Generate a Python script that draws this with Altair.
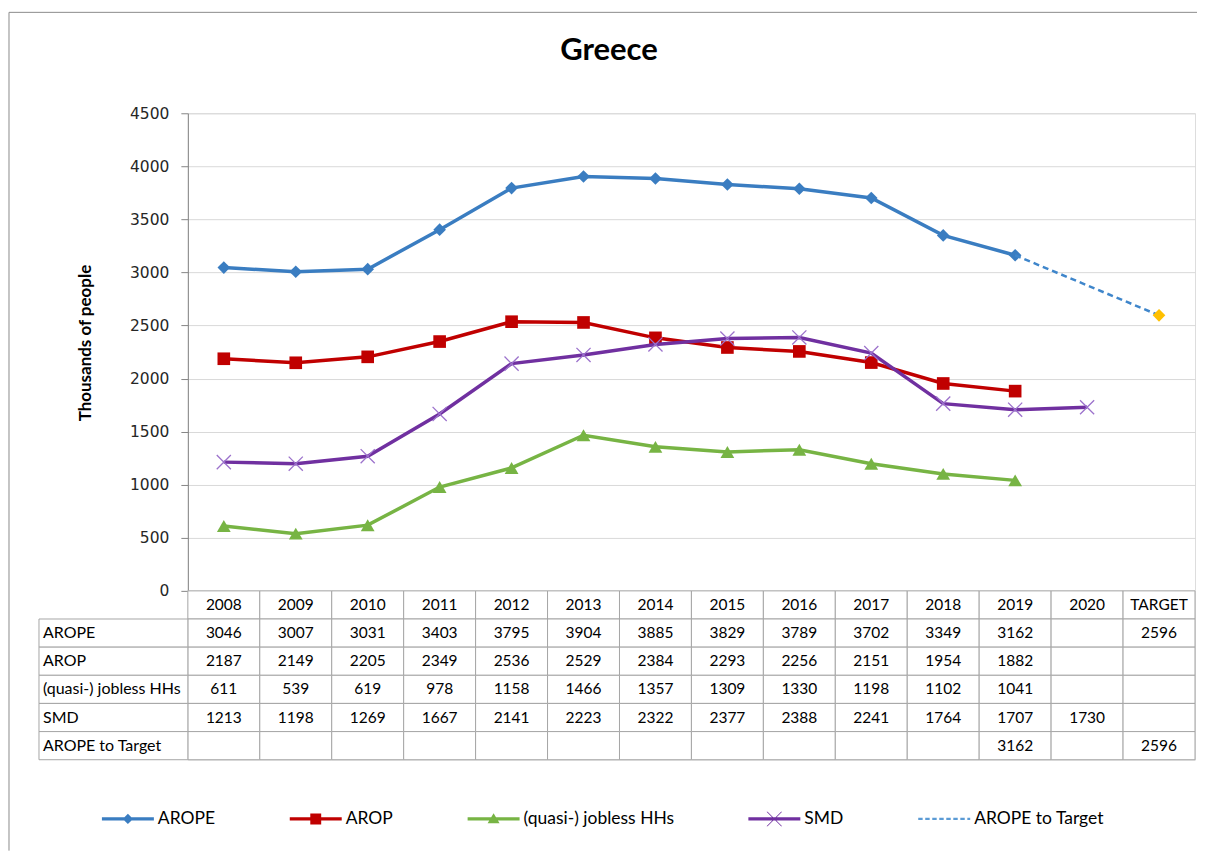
import altair as alt
import pandas as pd

# ---------------- data ----------------
years = ["2008", "2009", "2010", "2011", "2012", "2013", "2014",
         "2015", "2016", "2017", "2018", "2019", "2020", "TARGET"]
arope = [3046, 3007, 3031, 3403, 3795, 3904, 3885, 3829, 3789, 3702, 3349, 3162, None, 2596]
arop = [2187, 2149, 2205, 2349, 2536, 2529, 2384, 2293, 2256, 2151, 1954, 1882, None, None]
jobless = [611, 539, 619, 978, 1158, 1466, 1357, 1309, 1330, 1198, 1102, 1041, None, None]
smd = [1213, 1198, 1269, 1667, 2141, 2223, 2322, 2377, 2388, 2241, 1764, 1707, 1730, None]
arope_to_target = [None, None, None, None, None, None, None, None, None, None, None, 3162, None, 2596]
series_names = ["AROPE", "AROP", "(quasi-) jobless HHs", "SMD", "AROPE to Target"]
y_ticks = [0, 500, 1000, 1500, 2000, 2500, 3000, 3500, 4000, 4500]

rows = []
for name, vals in zip(series_names, [arope, arop, jobless, smd, arope_to_target]):
    for yr, v in zip(years, vals):
        rows.append({"year": yr, "series": name, "value": v,
                     "label": "" if v is None else str(v)})
df = pd.DataFrame(rows)

# ---------------- style ----------------
FONT = "Lato"
C_AROPE = "#3A7DC1"
C_AROP = "#C00000"
C_JOB = "#77B444"
C_SMD = "#7030A0"
C_SMD_X = "#9C72CC"
C_TGT_LINE = "#3F86CB"
C_TGT_PT = "#FFC000"
GRID = "#A6A6A6"

X = alt.X("year:N", scale=alt.Scale(type="band", domain=years, paddingInner=0, paddingOuter=0), axis=None)
Y = alt.Y("value:Q", scale=alt.Scale(domain=[0, 4500], nice=False),
          axis=alt.Axis(values=y_ticks, format="d", grid=True, gridColor="#D9D9D9", gridWidth=1,
                        domainColor="#868686", tickColor="#868686", tickSize=7, labelPadding=12,
                        labelFont="DejaVu Sans", labelFontSize=15.5, labelColor="#262626",
                        title="Thousands of people", titleFont=FONT, titleFontSize=17,
                        titleFontWeight="bold", titleColor="black", titleX=-102, titleY=229.5,
                        titleAngle=270, titleAlign="center", titleBaseline="middle"))

base = alt.Chart(df).encode(x=X, y=Y)
valid = "isValid(datum.value)"

layers = []
main = [("AROPE", C_AROPE, "diamond", 160),
        ("AROP", C_AROP, "square", 160),
        ("(quasi-) jobless HHs", C_JOB, "triangle-up", 190)]
for name, color, shape, size in main:
    sub = base.transform_filter(alt.datum.series == name).transform_filter(valid).transform_filter(
        alt.datum.year != "TARGET")
    layers.append(sub.mark_line(color=color, strokeWidth=3.5))
    layers.append(sub.mark_point(shape=shape, filled=True, size=size, color=color, opacity=1))

smd_sub = base.transform_filter(alt.datum.series == "SMD").transform_filter(valid)
layers.append(smd_sub.mark_line(color=C_SMD, strokeWidth=3.5))
layers.append(smd_sub.mark_point(shape="M-1,-1L1,1M1,-1L-1,1", filled=False, size=200,
                                 color=C_SMD_X, strokeWidth=1.3, opacity=1))

tgt_sub = base.transform_filter(alt.datum.series == "AROPE to Target").transform_filter(valid)
layers.append(tgt_sub.mark_line(color=C_TGT_LINE, strokeWidth=2.5, strokeDash=[6, 4]))

tpt = base.transform_filter(alt.datum.series == "AROPE").transform_filter(alt.datum.year == "TARGET")
layers.append(tpt.mark_point(shape="diamond", filled=True, size=160, color=C_TGT_PT, opacity=1))

# outer frame (left and top edges of the chart area)
one = alt.Data(values=[{"k": 1}])
layers.append(alt.Chart(one).mark_rule(color="#8C8C8C", strokeWidth=1).encode(
    x=alt.value(-179), y=alt.value(-101), y2=alt.value(738)))
layers.append(alt.Chart(one).mark_rule(color="#8C8C8C", strokeWidth=1).encode(
    x=alt.value(-179), x2=alt.value(1010), y=alt.value(-101)))

top = alt.layer(*layers).properties(width=1008, height=478)

# ---------------- data table ----------------
hdr = pd.DataFrame({"year": years, "series": "_years", "label": years})
tdf = pd.concat([hdr, df[["year", "series", "label"]]], ignore_index=True)
row_domain = ["_years"] + series_names

TX = alt.X("year:N", scale=alt.Scale(type="band", domain=years, paddingInner=0, paddingOuter=0), axis=None)
TY = alt.Y("series:N", scale=alt.Scale(type="band", domain=row_domain, paddingInner=0, paddingOuter=0),
           axis=None)

cells = alt.Chart(tdf).mark_rect(fill="white", stroke=GRID, strokeWidth=1).encode(x=TX, y=TY)
cell_text = alt.Chart(tdf).mark_text(font=FONT, fontSize=15.5, color="black").encode(
    x=TX, y=TY, text="label:N")

lab_df = pd.DataFrame({"series": series_names})
lab_cells = alt.Chart(lab_df).mark_rect(fill="white", stroke=GRID, strokeWidth=1).encode(
    x=alt.value(-149), x2=alt.value(0), y=TY)
lab_text = alt.Chart(lab_df).mark_text(font=FONT, fontSize=16, color="black", align="left").encode(
    x=alt.value(-145), y=TY, text="series:N")

# legend (symbols drawn as line + marker)
line_part = "M-1,-0.065L1,-0.065L1,0.065L-1,0.065Z"
dash = ""
s = -1.0
while s < 1.0:
    e = min(s + 0.17, 1.0)
    dash += f"M{s:.3f},-0.045L{e:.3f},-0.045L{e:.3f},0.045L{s:.3f},0.045Z"
    s += 0.27
legend_paths = [
    line_part + "M0,-0.2L0.2,0L0,0.2L-0.2,0Z",
    line_part + "M-0.21,-0.21L0.21,-0.21L0.21,0.21L-0.21,0.21Z",
    line_part + "M0,-0.22L0.23,0.17L-0.23,0.17Z",
    line_part + "M-0.3,-0.28L-0.26,-0.28L0.3,0.28L0.26,0.28ZM0.26,-0.28L0.3,-0.28L-0.26,0.28L-0.3,0.28Z",
    dash,
]
legend_colors = [C_AROPE, C_AROP, C_JOB, C_SMD, "#5B9BD5"]
leg = alt.Legend(title=None, orient="none", legendX=-86, legendY=680, direction="horizontal",
                 symbolSize=2704, symbolStrokeWidth=0, labelFont=FONT, labelFontSize=17.5,
                 labelColor="black", labelOffset=4, columnPadding=74, labelLimit=400, padding=0)
legend_layer = alt.Chart(lab_df).transform_filter("false").mark_point(filled=True, opacity=1).encode(
    color=alt.Color("series:N", scale=alt.Scale(domain=series_names, range=legend_colors), legend=leg),
    shape=alt.Shape("series:N", scale=alt.Scale(domain=series_names, range=legend_paths), legend=leg),
)

bottom = alt.layer(cells, cell_text, lab_cells, lab_text, legend_layer).properties(width=1008, height=169)

chart = alt.vconcat(
    top, bottom, spacing=0, bounds="flush",
    padding={"left": 0, "top": 3, "right": 0, "bottom": 0},
    title=alt.TitleParams("Greece", font=FONT, fontSize=31, fontWeight="bold", color="black",
                          anchor="middle", offset=-56, dx=6),
).configure_view(stroke=None).configure(font=FONT)

chart.save("out.html", embed_options={"renderer": "svg", "actions": False})
